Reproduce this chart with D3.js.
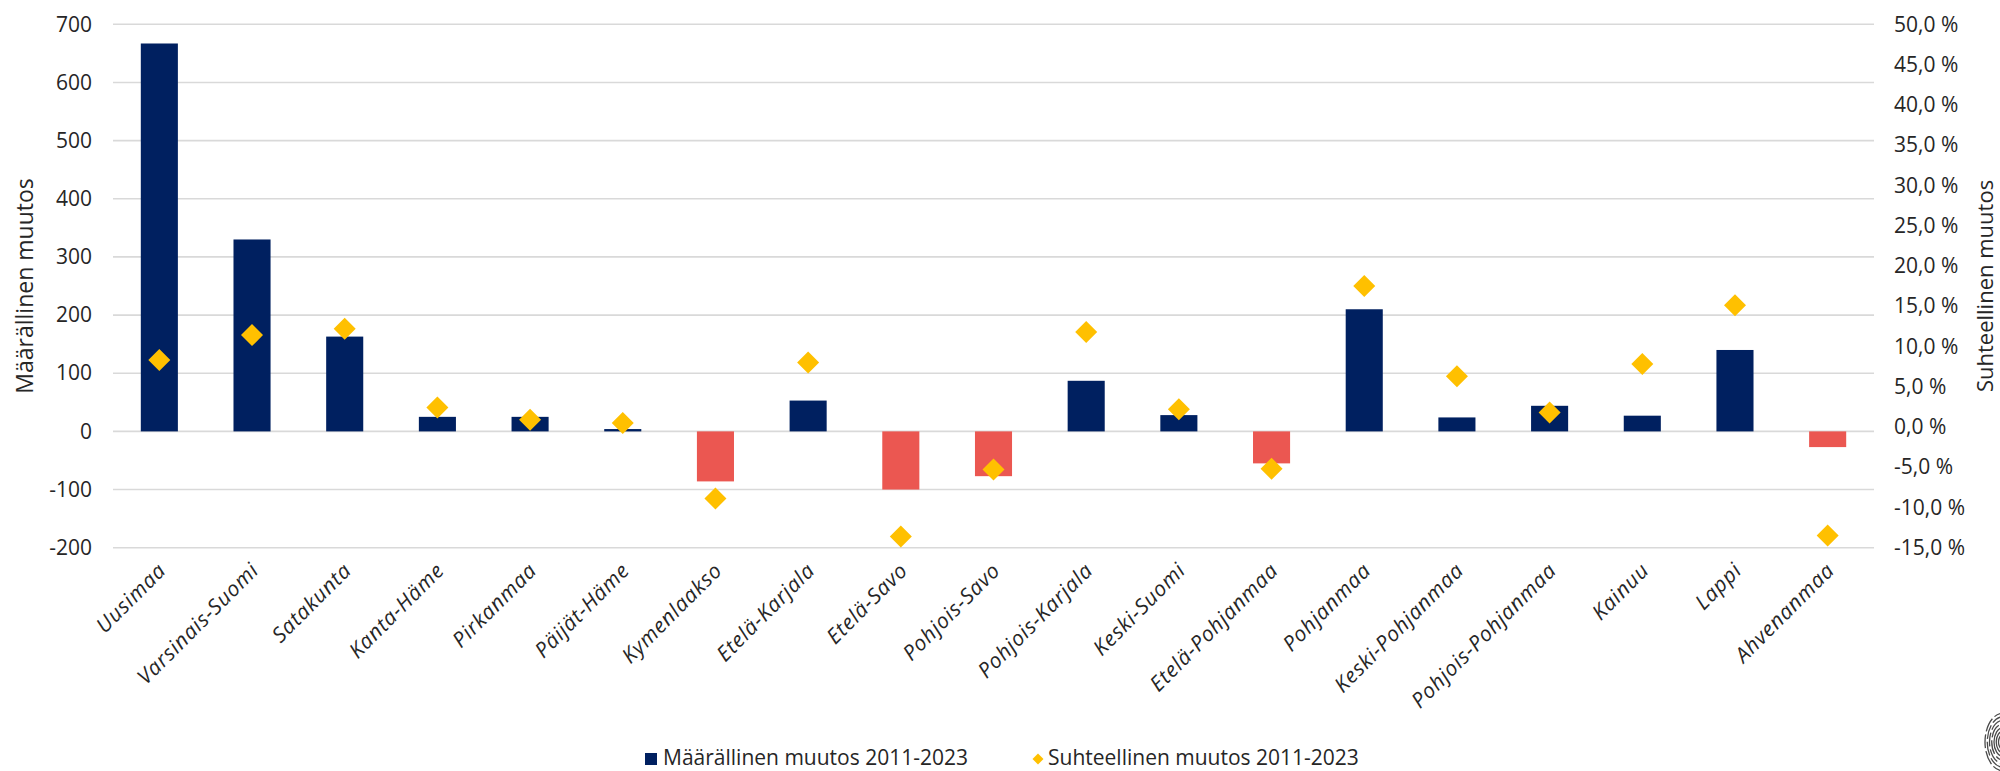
<!DOCTYPE html>
<html lang="fi">
<head>
<meta charset="utf-8">
<script src="https://cdn.jsdelivr.net/npm/d3@7"></script>
<style>
  html, body { margin: 0; padding: 0; background: #ffffff; }
  svg { display: block; font-family: "Open Sans", "Noto Sans", sans-serif; }
</style>
</head>
<body>
<svg id="chart" width="2000" height="771"></svg>
<script>
// Maakunnat
const categories = [
  "Uusimaa", "Varsinais-Suomi", "Satakunta", "Kanta-Häme", "Pirkanmaa",
  "Päijät-Häme", "Kymenlaakso", "Etelä-Karjala", "Etelä-Savo", "Pohjois-Savo",
  "Pohjois-Karjala", "Keski-Suomi", "Etelä-Pohjanmaa", "Pohjanmaa",
  "Keski-Pohjanmaa", "Pohjois-Pohjanmaa", "Kainuu", "Lappi", "Ahvenanmaa"
];

// Määrällinen muutos 2011-2023
const absoluteChange = [667, 330, 163, 25, 25, 4, -86, 53, -100, -77, 87, 28, -55, 210, 24, 44, 27, 140, -27];

// Suhteellinen muutos 2011-2023 (%)
const relativeChange = [8.3, 11.4, 12.2, 2.4, 0.9, 0.5, -8.9, 8.0, -13.6, -5.3, 11.8, 2.2, -5.2, 17.5, 6.3, 1.8, 7.8, 15.1, -13.5];

// Akselien asteikot
const leftTicks = [-200, -100, 0, 100, 200, 300, 400, 500, 600, 700];
const rightTicks = [-15, -10, -5, 0, 5, 10, 15, 20, 25, 30, 35, 40, 45, 50];

const seriesNames = ["Määrällinen muutos 2011-2023", "Suhteellinen muutos 2011-2023"];
const axisTitles = ["Määrällinen muutos", "Suhteellinen muutos"];

const NAVY = "#002060";
const RED = "#EB5751";
const GOLD = "#FFC000";
const GRID = "#D9D9D9";
const TEXT = "#262626";

const svg = d3.select("#chart");

const plot = { left: 113, right: 1874, top: 24.3, bottom: 547.7 };

const x = d3.scaleBand()
  .domain(categories)
  .range([plot.left, plot.right])
  .paddingInner(0.6)
  .paddingOuter(0.3);

const yLeft = d3.scaleLinear()
  .domain([d3.min(leftTicks), d3.max(leftTicks)])
  .range([plot.bottom, plot.top]);

const yRight = d3.scaleLinear()
  .domain([d3.min(rightTicks), d3.max(rightTicks)])
  .range([plot.bottom, plot.top]);

// Vaakaviivat
svg.append("g")
  .selectAll("line")
  .data(leftTicks)
  .join("line")
  .attr("x1", plot.left)
  .attr("x2", plot.right)
  .attr("y1", d => yLeft(d))
  .attr("y2", d => yLeft(d))
  .attr("stroke", GRID)
  .attr("stroke-width", 1.6);

// Vasen akseli (tavallinen yhdysmerkki miinuksena)
const leftAxis = svg.append("g")
  .attr("transform", `translate(${plot.left - 21},0)`)
  .call(d3.axisLeft(yLeft).tickValues(leftTicks).tickSize(0).tickPadding(0).tickFormat(d => String(d)));
leftAxis.select(".domain").remove();
leftAxis.selectAll("text")
  .attr("fill", TEXT)
  .style("font-size", "21px")
  .style("font-family", "'Open Sans', sans-serif");

// Oikea akseli
const pctFormat = d => (d < 0 ? "-" : "") + Math.abs(d).toFixed(1).replace(".", ",") + " %";
const rightAxis = svg.append("g")
  .attr("transform", `translate(${plot.right + 20},0)`)
  .call(d3.axisRight(yRight).tickValues(rightTicks).tickSize(0).tickPadding(0).tickFormat(pctFormat));
rightAxis.select(".domain").remove();
rightAxis.selectAll("text")
  .attr("fill", TEXT)
  .style("font-size", "21px")
  .style("font-family", "'Open Sans', sans-serif");

// Pylväät
svg.append("g")
  .selectAll("rect")
  .data(categories.map((c, i) => ({ c, v: absoluteChange[i] })))
  .join("rect")
  .attr("x", d => x(d.c))
  .attr("width", x.bandwidth())
  .attr("y", d => yLeft(Math.max(0, d.v)))
  .attr("height", d => Math.abs(yLeft(d.v) - yLeft(0)))
  .attr("fill", d => d.v < 0 ? RED : NAVY);

// Salmiakit (suhteellinen muutos)
const diamond = d3.symbol().type(d3.symbolSquare).size(242);
svg.append("g")
  .selectAll("path")
  .data(categories.map((c, i) => ({ c, v: relativeChange[i] })))
  .join("path")
  .attr("d", diamond)
  .attr("transform", d => `translate(${x(d.c) + x.bandwidth() / 2},${yRight(d.v)}) rotate(45)`)
  .attr("fill", GOLD);

// Luokka-akselin nimet
svg.append("g")
  .selectAll("text")
  .data(categories)
  .join("text")
  .attr("transform", d => `translate(${x(d) + x.bandwidth() / 2 + 8},${plot.bottom + 24}) rotate(-45)`)
  .attr("text-anchor", "end")
  .attr("fill", TEXT)
  .style("font-size", "21px")
  .style("letter-spacing", "0.8px")
  .style("font-style", "italic")
  .text(d => d);

// Akselien otsikot
svg.append("text")
  .attr("transform", `translate(24,${(plot.top + plot.bottom) / 2}) rotate(-90)`)
  .attr("text-anchor", "middle")
  .attr("dominant-baseline", "central")
  .attr("fill", TEXT)
  .style("font-size", "23px")
  .text(axisTitles[0]);

svg.append("text")
  .attr("transform", `translate(1984,${(plot.top + plot.bottom) / 2}) rotate(-90)`)
  .attr("text-anchor", "middle")
  .attr("dominant-baseline", "central")
  .attr("fill", TEXT)
  .style("font-size", "22px")
  .text(axisTitles[1]);

// Selite
const legend = svg.append("g");
legend.append("rect")
  .attr("x", 645).attr("y", 753).attr("width", 12).attr("height", 12)
  .attr("fill", NAVY);
legend.append("text")
  .attr("x", 663).attr("y", 765)
  .attr("fill", TEXT)
  .style("font-size", "21px")
  .text(seriesNames[0]);
legend.append("path")
  .attr("d", d3.symbol().type(d3.symbolSquare).size(60))
  .attr("transform", "translate(1038,759) rotate(45)")
  .attr("fill", GOLD);
legend.append("text")
  .attr("x", 1048).attr("y", 765)
  .attr("fill", TEXT)
  .style("font-size", "21px")
  .text(seriesNames[1]);

// Sormenjälkilogo oikeassa alakulmassa
const logo = svg.append("g").attr("transform", "translate(2003,742)");
d3.range(3, 27, 3).forEach(r => {
  logo.append("ellipse")
    .attr("rx", r * 0.75)
    .attr("ry", r * 1.2)
    .attr("fill", "none")
    .attr("stroke", "#4a4a4a")
    .attr("stroke-width", 1.3)
    .attr("stroke-dasharray", r > 12 ? "14 3" : null);
});
</script>
</body>
</html>
